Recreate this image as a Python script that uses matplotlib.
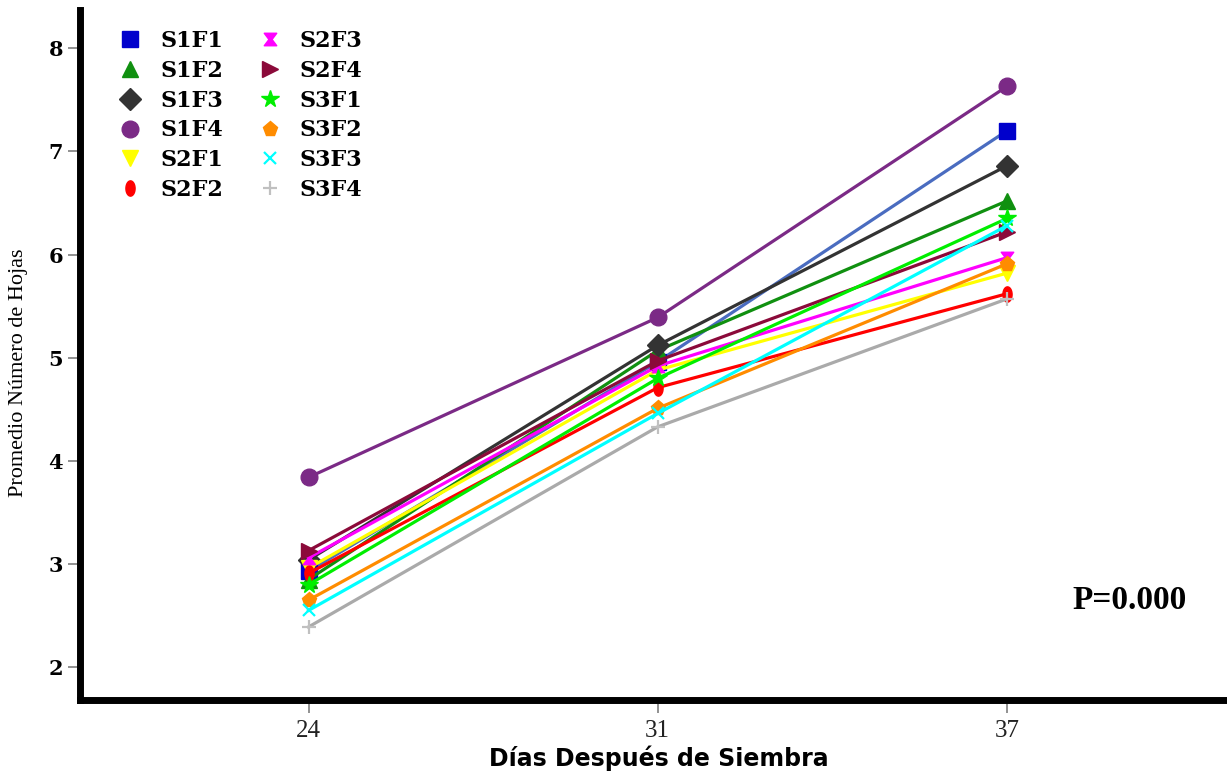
import numpy as np
import matplotlib.pyplot as plt
from matplotlib.path import Path

dias = ['24', '31', '37']

series = ['S1F1', 'S1F2', 'S1F3', 'S1F4', 'S2F1', 'S2F2',
          'S2F3', 'S2F4', 'S3F1', 'S3F2', 'S3F3', 'S3F4']

S1F1 = [2.93, 4.96, 7.20]
S1F2 = [2.85, 5.07, 6.52]
S1F3 = [3.04, 5.12, 6.86]
S1F4 = [3.84, 5.39, 7.63]
S2F1 = [2.96, 4.88, 5.82]
S2F2 = [2.91, 4.71, 5.62]
S2F3 = [3.06, 4.92, 5.97]
S2F4 = [3.13, 4.97, 6.22]
S3F1 = [2.80, 4.80, 6.35]
S3F2 = [2.65, 4.51, 5.91]
S3F3 = [2.55, 4.46, 6.28]
S3F4 = [2.39, 4.33, 5.57]
valores = [S1F1, S1F2, S1F3, S1F4, S2F1, S2F2, S2F3, S2F4, S3F1, S3F2, S3F3, S3F4]

# vertical ellipse and hourglass markers
t = np.linspace(0, 2*np.pi, 40)
elipse = Path(np.c_[0.6*np.cos(t), np.sin(t)], closed=True)
reloj = Path([(-1, 1), (1, 1), (0.25, 0), (1, -1), (-1, -1), (-0.25, 0), (-1, 1)], closed=True)

# marker color, line color, marker, size
estilos = [('#0000cc', '#4a6cc0', 's', 12),
           ('#109010', '#109010', '^', 11),
           ('#333333', '#333333', 'D', 11),
           ('#7b2a86', '#7b2a86', 'o', 12),
           ('#ffff00', '#ffff00', 'v', 11),
           ('#ff0000', '#ff0000', elipse, 11),
           ('#ff00ff', '#ff00ff', reloj, 9),
           ('#8b0a3a', '#8b0a3a', '>', 11),
           ('#00ee00', '#00ee00', '*', 13),
           ('#ff8c00', '#ff8c00', 'p', 11),
           ('#00ffff', '#00ffff', 'x', 9),
           ('#c0c0c0', '#aaaaaa', '+', 10)]

fig = plt.figure(figsize=(12.27, 7.72), dpi=100)
ax = fig.add_axes([0.065, 0.093, 0.935, 0.894])
x = np.arange(len(dias))

for nom, val, (mc, lc, mk, ms) in zip(series, valores, estilos):
    mew = 1.6 if mk in ('x', '+') else 1
    ax.plot(x, val, color=lc, lw=2.3, label=nom, marker=mk, markersize=ms,
            markerfacecolor=mc, markeredgecolor=mc, markeredgewidth=mew)

ax.set_xlim(-0.655, 2.63)
ax.set_ylim(1.68, 8.37)
ax.set_xticks(x)
ax.set_xticklabels(dias, fontfamily='Liberation Serif', fontsize=18, color='#222222')
ax.set_yticks(range(2, 9))
ax.set_yticklabels([str(v) for v in range(2, 9)], fontfamily='DejaVu Serif',
                   fontweight='bold', fontsize=15)
ax.tick_params(axis='both', length=9, color='#888888', width=1.3)
ax.tick_params(axis='y', pad=3)
ax.tick_params(axis='x', pad=5)

for s in ['top', 'right']:
    ax.spines[s].set_visible(False)
ax.spines['left'].set_linewidth(5)
ax.spines['bottom'].set_linewidth(5)

ax.set_xlabel('Días Después de Siembra', fontfamily='DejaVu Sans',
              fontweight='bold', fontsize=17)
ax.xaxis.set_label_coords(0.505, -0.066)
ax.set_ylabel('Promedio Número de Hojas', fontfamily='Liberation Serif', fontsize=16)
ax.yaxis.set_label_coords(-0.045, 0.475)

ax.text(0.965, 0.132, 'P=0.000', transform=ax.transAxes, fontfamily='Liberation Serif',
        fontweight='bold', fontsize=24, ha='right', va='baseline')

ax.legend(ncol=2, loc='upper left', bbox_to_anchor=(0.017, 1.0), frameon=False,
          prop={'family': 'DejaVu Serif', 'weight': 'bold', 'size': 16},
          handlelength=1.0, handletextpad=0.85, columnspacing=1.6,
          labelspacing=0.35)
for h in ax.get_legend().get_lines():
    h.set_linestyle('None')

fig.savefig('out.png', dpi=100)
